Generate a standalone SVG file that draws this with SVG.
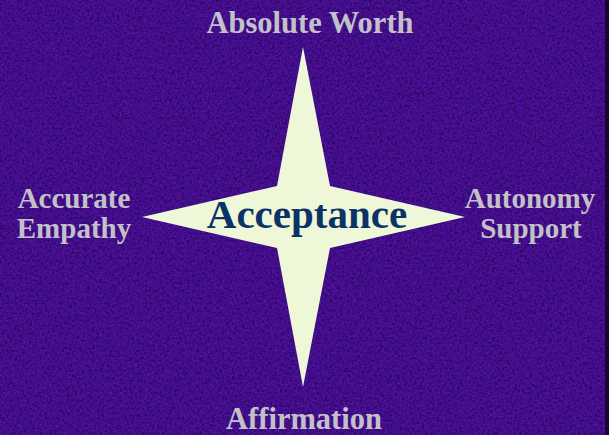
<svg xmlns="http://www.w3.org/2000/svg" width="609" height="435" viewBox="0 0 609 435">
<defs>
<filter id="tex" x="0" y="0" width="100%" height="100%" color-interpolation-filters="sRGB">
<feTurbulence type="fractalNoise" baseFrequency="0.4" numOctaves="3" seed="7" result="n"/>
<feColorMatrix in="n" type="matrix" values="0 0 0 0 0.12  0 0 0 0 0.0  0 0 0 0 0.25  2.0 0 0 0 -0.9" result="dark"/>
<feTurbulence type="fractalNoise" baseFrequency="0.5" numOctaves="2" seed="11" result="n3"/>
<feColorMatrix in="n3" type="matrix" values="0 0 0 0 0.36  0 0 0 0 0.14  0 0 0 0 0.75  0 0 2.0 0 -1.05" result="light"/>
<feTurbulence type="fractalNoise" baseFrequency="0.9" numOctaves="2" seed="3" result="n2"/>
<feColorMatrix in="n2" type="matrix" values="0 0 0 0 0.55  0 0 0 0 0.05  0 0 0 0 0.55  0 2.2 0 0 -1.25" result="red"/>
<feMerge><feMergeNode in="SourceGraphic"/><feMergeNode in="light"/><feMergeNode in="dark"/><feMergeNode in="red"/></feMerge>
</filter>
<style>
.lbl{font-family:"Liberation Serif","Times New Roman",serif;font-weight:bold;font-size:29px;fill:#c3c1c8;text-anchor:middle}
.big{font-size:30.5px}
.ctr{font-family:"Liberation Serif","Times New Roman",serif;font-weight:bold;font-size:41px;fill:#0b3366;text-anchor:middle}
</style>
</defs>
<rect width="609" height="435" fill="#420e92" filter="url(#tex)"/>
<rect x="605" y="0" width="4" height="435" fill="#1a0630"/>
<g id="star">
<polygon points="303,47 330,186 465,217 330,248 303,387 277,248 142,217 277,186" fill="#eef7d8"/>
</g>
<g id="acceptance"><text class="ctr" x="307" y="228">Acceptance</text></g>
<g id="absolute-worth"><text class="lbl big" x="310" y="33">Absolute Worth</text></g>
<g id="accurate-empathy"><text class="lbl" x="74" y="208">Accurate</text><text class="lbl" x="74" y="238">Empathy</text></g>
<g id="autonomy-support"><text class="lbl" x="530" y="208">Autonomy</text><text class="lbl" x="531" y="238">Support</text></g>
<g id="affirmation"><text class="lbl big" x="304" y="429">Affirmation</text></g>
<g id="connectors"/>
</svg>
